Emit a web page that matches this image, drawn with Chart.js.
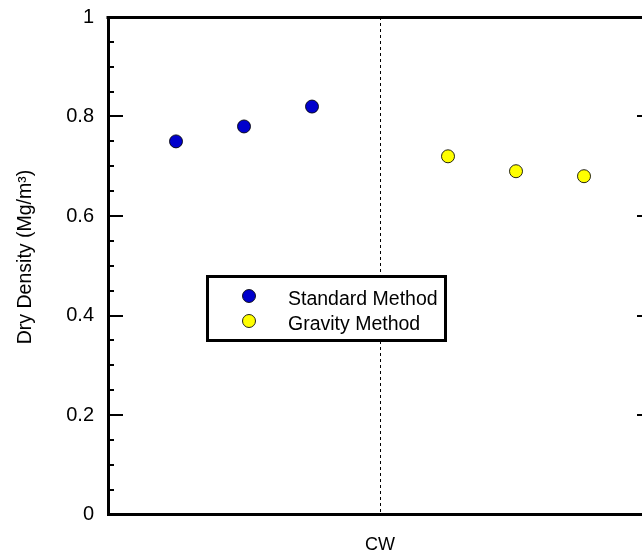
<!DOCTYPE html>
<html><head><meta charset="utf-8">
<script src="https://cdn.jsdelivr.net/npm/chart.js@4.4.1/dist/chart.umd.min.js"></script>
<style>
html,body{margin:0;padding:0;overflow:hidden;background:#fff;width:642px;height:560px}
#wrap{position:absolute;left:0;top:0;width:660px;height:560px}
</style></head>
<body><div id="wrap"><canvas id="c" width="660" height="560"></canvas></div>
<script>
// ---- data ----
const categories = ['CW'];
const categoryPos = [0];
const seriesNames = ['Standard Method', 'Gravity Method'];
const standardPos = [-3, -2, -1];
const standardDensity = [0.75, 0.78, 0.82];
const gravityPos = [1, 2, 3];
const gravityDensity = [0.72, 0.69, 0.68];
const yTickValues = [0, 0.2, 0.4, 0.6, 0.8, 1];
const yTickLabels = ['0', '0.2', '0.4', '0.6', '0.8', '1'];
const yTitle = 'Dry Density (Mg/m\u00B3)';

const FONT = '"Liberation Sans", Arial, Helvetica, sans-serif';
const colors = ['#0000cc', '#ffff00'];

const toPts = (xs, ys) => xs.map((v, i) => ({x: v, y: ys[i]}));

const decor = {
  id: 'decor',
  beforeDatasetsDraw(chart) {
    const {ctx, chartArea: a, scales: {x, y}} = chart;
    ctx.save();
    ctx.strokeStyle = '#000';
    // dashed category line
    ctx.lineWidth = 1;
    ctx.setLineDash([3, 3]);
    categoryPos.forEach(v => {
      const px = Math.round(x.getPixelForValue(v)) + 0.5;
      ctx.beginPath(); ctx.moveTo(px, a.top); ctx.lineTo(px, a.bottom); ctx.stroke();
    });
    ctx.setLineDash([]);
    // inward ticks
    ctx.lineWidth = 2;
    y.ticks.forEach((t, i) => {
      if (i === 0 || i === y.ticks.length - 1) return;
      const py = Math.round(y.getPixelForValue(t.value));
      const major = yTickValues.some(v => Math.abs(v - t.value) < 1e-6);
      ctx.beginPath();
      ctx.moveTo(a.left, py); ctx.lineTo(a.left + (major ? 15 : 6), py);
      if (major) { ctx.moveTo(a.right, py); ctx.lineTo(a.right - 15, py); }
      ctx.stroke();
    });
    // top and right frame
    ctx.lineWidth = 3;
    ctx.beginPath();
    ctx.moveTo(a.left - 1.5, a.top + 0.5); ctx.lineTo(a.right + 1.5, a.top + 0.5);
    ctx.moveTo(a.right, a.top); ctx.lineTo(a.right, a.bottom);
    ctx.stroke();
    ctx.restore();
  },
  afterDatasetsDraw(chart) {
    const {ctx} = chart;
    ctx.save();
    // legend box
    ctx.fillStyle = '#fff';
    ctx.strokeStyle = '#000';
    ctx.lineWidth = 3;
    ctx.fillRect(207.5, 276.5, 238, 64);
    ctx.strokeRect(207.5, 276.5, 238, 64);
    const rows = [296, 321];
    seriesNames.forEach((name, i) => {
      ctx.beginPath();
      ctx.arc(249, rows[i], 6.5, 0, Math.PI * 2);
      ctx.fillStyle = colors[i];
      ctx.fill();
      ctx.lineWidth = 1;
      ctx.strokeStyle = 'rgba(0,0,0,0.85)';
      ctx.stroke();
      ctx.fillStyle = '#000';
      ctx.font = '19.5px ' + FONT;
      ctx.textAlign = 'left';
      ctx.textBaseline = 'alphabetic';
      ctx.fillText(name, 288, rows[i] + 8.5);
    });
    ctx.restore();
  },
  afterDraw(chart) {
    const {ctx} = chart;
    ctx.save();
    ctx.translate(26, 257);
    ctx.rotate(-Math.PI / 2);
    ctx.fillStyle = '#000';
    ctx.font = '19.5px ' + FONT;
    ctx.textAlign = 'center';
    ctx.textBaseline = 'middle';
    ctx.fillText(yTitle, 0, 0);
    ctx.restore();
  }
};

new Chart(document.getElementById('c'), {
  type: 'scatter',
  data: {
    datasets: [
      {label: seriesNames[0], data: toPts(standardPos, standardDensity),
       backgroundColor: colors[0], borderColor: 'rgba(0,0,0,0.85)', borderWidth: 1, pointRadius: 6.5, pointHoverRadius: 6.5},
      {label: seriesNames[1], data: toPts(gravityPos, gravityDensity),
       backgroundColor: colors[1], borderColor: 'rgba(0,0,0,0.85)', borderWidth: 1, pointRadius: 6.5, pointHoverRadius: 6.5}
    ]
  },
  options: {
    responsive: false,
    animation: false,
    devicePixelRatio: 1,
    layout: {padding: {top: 17, right: 8, left: 0, bottom: 0}},
    plugins: {legend: {display: false}, tooltip: {enabled: false}},
    scales: {
      x: {
        type: 'linear', min: -4, max: 4,
        afterFit(s) { s.height = 45.5; s.paddingLeft = 0; s.paddingRight = 0; },
        afterBuildTicks(s) { s.ticks = categoryPos.map(v => ({value: v})); },
        grid: {display: false, drawTicks: false},
        border: {display: true, width: 3, color: '#000'},
        ticks: {
          autoSkip: false, maxRotation: 0, padding: 20, color: '#000',
          font: {size: 18, family: FONT},
          callback(v) { const i = categoryPos.indexOf(v); return i >= 0 ? categories[i] : ''; }
        }
      },
      y: {
        min: 0, max: 1,
        afterFit(s) { s.width = 108; s.paddingTop = 0; s.paddingBottom = 0; },
        grid: {display: false, drawTicks: false},
        border: {display: true, width: 3, color: '#000'},
        ticks: {
          stepSize: 0.05, autoSkip: false, padding: 14, color: '#000',
          font: {size: 20, family: FONT},
          callback(v) {
            const i = yTickValues.findIndex(t => Math.abs(t - v) < 1e-6);
            return i >= 0 ? yTickLabels[i] : '';
          }
        }
      }
    }
  },
  plugins: [decor]
});
</script>
</body></html>
